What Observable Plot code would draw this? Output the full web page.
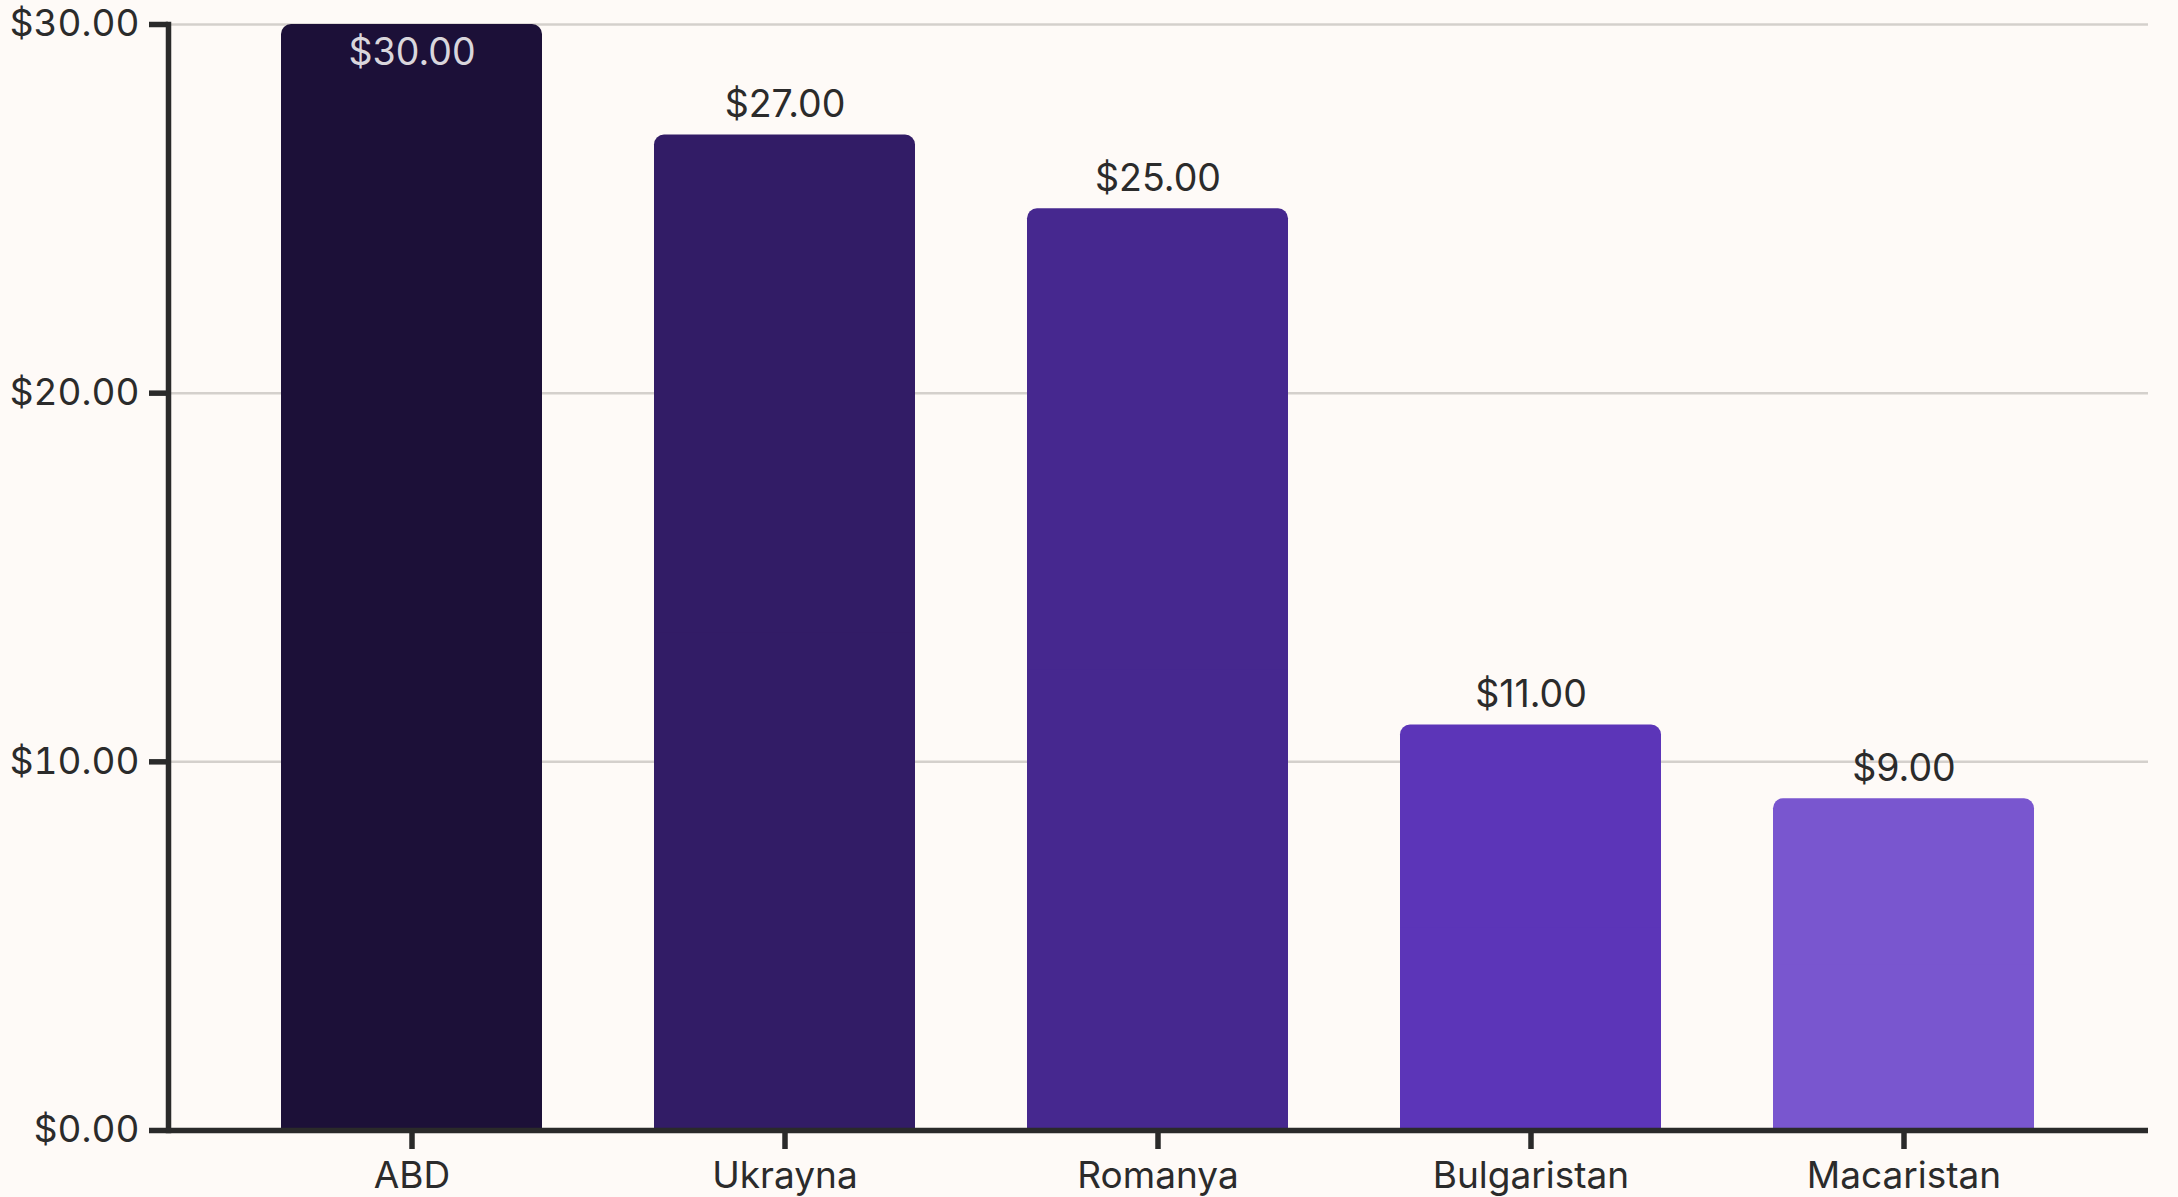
<!DOCTYPE html>
<html>
<head>
<meta charset="utf-8">
<script src="https://cdn.jsdelivr.net/npm/d3@7"></script>
<script src="https://cdn.jsdelivr.net/npm/@observablehq/plot@0.6"></script>
<style>
  html, body { margin: 0; padding: 0; background: #fefaf7; }
  #chart svg { display: block; }
</style>
</head>
<body>
<div id="chart"></div>
<script>
const countries = ["ABD", "Ukrayna", "Romanya", "Bulgaristan", "Macaristan"];
const values = [30, 27, 25, 11, 9];
const barColors = ["#1c1038", "#321c66", "#46288f", "#5c35b8", "#7956cf"];
const yTicks = [0, 10, 20, 30];

const data = countries.map((c, i) => ({country: c, value: values[i], color: barColors[i]}));
const fmt = v => "$" + v.toFixed(2);
const yMax = 30;

const chart = Plot.plot({
  width: 2178,
  height: 1197,
  marginLeft: 168,
  marginRight: 30,
  marginTop: 24,
  marginBottom: 67,
  style: {background: "#fefaf7", fontFamily: "Inter, sans-serif", fontSize: "37px", color: "#2b2b2b"},
  x: {domain: countries, padding: 0.3, label: null},
  y: {domain: [0, yMax], label: null},
  marks: [
    Plot.gridY(yTicks, {stroke: "#d4d0cc", strokeOpacity: 1, strokeWidth: 2.5}),
    Plot.barY(data, {x: "country", y: "value", fill: "color", rx: 10}),
    Plot.barY(data, {x: "country", y: d => d.value / 2, fill: "color"}),
    Plot.axisY({ticks: yTicks, tickFormat: fmt, tickSize: 19, tickPadding: 10, strokeWidth: 5.5, stroke: "#2a2a2a", fill: "#2b2b2b", label: null}),
    Plot.axisX({tickSize: 19, tickPadding: 12, strokeWidth: 5.5, stroke: "#2a2a2a", fill: "#2b2b2b", label: null}),
    Plot.frame({anchor: "left", stroke: "#2a2a2a", strokeWidth: 5.5}),
    Plot.ruleY([0], {stroke: "#2a2a2a", strokeWidth: 5.5}),
    Plot.text(data.filter(d => d.value < yMax - 1), {x: "country", y: "value", text: d => fmt(d.value), dy: -30, fill: "#2b2b2b", fontSize: 37.5}),
    Plot.text(data.filter(d => d.value >= yMax - 1), {x: "country", y: "value", text: d => fmt(d.value), dy: 28, fill: "#d9d6dc", fontSize: 37.5})
  ]
});
document.getElementById("chart").appendChild(chart);
</script>
</body>
</html>
